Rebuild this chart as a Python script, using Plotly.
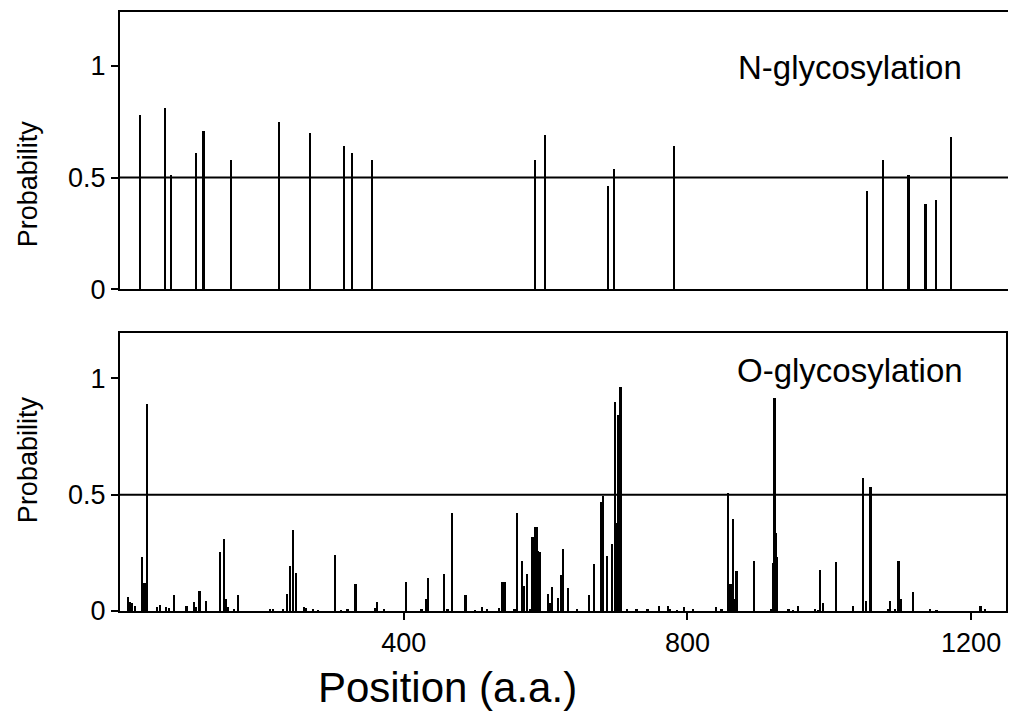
import plotly.graph_objects as go

# N-glycosylation sites (position, probability)
n_pos = [29, 64, 72, 108, 118, 157, 225, 268, 316, 328, 356, 586, 600, 688, 697, 781,
         1053, 1076, 1112, 1136, 1151, 1172]
n_prob = [0.78, 0.81, 0.51, 0.61, 0.71, 0.58, 0.75, 0.70, 0.64, 0.61, 0.58, 0.58, 0.69,
          0.46, 0.54, 0.64, 0.44, 0.58, 0.51, 0.38, 0.40, 0.68]

# O-glycosylation sites (position, probability)
o_pos = [12, 15, 17, 22, 31.5, 33, 34.5, 36, 38, 52, 56.5, 65, 69, 76, 94, 105, 108, 112.5,
         122, 141.5, 147, 149, 152.5, 161, 166.5, 212, 216, 230.5, 235.5, 240, 244.5, 249,
         260, 262.5, 273, 280, 303.5, 312, 321, 332.5, 360, 363, 372, 403.5, 425.5, 431.5,
         434.5, 457, 462, 468.5, 487.5, 501, 510.5, 517.5, 535, 539.5, 543.5, 556.5, 560,
         567.5, 569.5, 574.5, 578.5, 581.5, 583.5, 585.5, 587.5, 589.5, 592.5, 604, 606.5,
         609, 617.5, 622.5, 625, 632, 645, 661.5, 668.5, 679, 681.5, 686.5, 694, 698.5,
         700.5, 702.5, 704, 706, 715.5, 728.5, 744, 760.5, 773.5, 775.5, 786, 796, 808.5,
         841, 848.5, 857.5, 861, 864.5, 866.5, 869.5, 894.5, 919, 921.5, 923, 924.5, 926,
         943, 949, 956, 980, 984, 987, 992, 1010, 1033.5, 1048, 1052, 1058.5, 1083, 1086.5,
         1092.5, 1098, 1102, 1118, 1142, 1151.5, 1213.5, 1219.5]
o_prob = [0.06, 0.04, 0.035, 0.025, 0.235, 0.12, 0.12, 0.12, 0.89, 0.02, 0.028, 0.02, 0.015,
          0.071, 0.025, 0.042, 0.02, 0.089, 0.046, 0.257, 0.311, 0.052, 0.02, 0.01, 0.071,
          0.01, 0.01, 0.01, 0.075, 0.195, 0.35, 0.164, 0.02, 0.015, 0.012, 0.006, 0.242,
          0.006, 0.01, 0.118, 0.015, 0.042, 0.01, 0.128, 0.01, 0.052, 0.142, 0.159, 0.008,
          0.421, 0.071, 0.005, 0.02, 0.012, 0.013, 0.125, 0.128, 0.008, 0.421, 0.218, 0.109,
          0.159, 0.01, 0.32, 0.32, 0.364, 0.364, 0.26, 0.257, 0.074, 0.035, 0.104, 0.059,
          0.157, 0.267, 0.102, 0.012, 0.071, 0.204, 0.471, 0.496, 0.24, 0.29, 0.90, 0.38,
          0.843, 0.38, 0.965, 0.01, 0.01, 0.01, 0.025, 0.025, 0.01, 0.006, 0.02, 0.01, 0.02,
          0.01, 0.507, 0.118, 0.396, 0.052, 0.174, 0.218, 0.01, 0.21, 0.918, 0.338, 0.235,
          0.01, 0.006, 0.025, 0.01, 0.006, 0.178, 0.038, 0.211, 0.025, 0.572, 0.045, 0.533,
          0.01, 0.045, 0.01, 0.218, 0.052, 0.085, 0.01, 0.006, 0.025, 0.01]

threshold = 0.5
x_ticks = [400, 800, 1200]
y_ticks = [0, 0.5, 1]
y_ticktext = ["0", "0.5", "1"]

FONT = "Liberation Sans, Arial, sans-serif"
BAR_W = 2.4

fig = go.Figure()
fig.add_trace(go.Bar(x=n_pos, y=n_prob, width=BAR_W, marker=dict(color="black", line=dict(width=0)),
                     xaxis="x", yaxis="y", showlegend=False))
fig.add_trace(go.Bar(x=o_pos, y=o_prob, width=BAR_W, marker=dict(color="black", line=dict(width=0)),
                     xaxis="x2", yaxis="y2", showlegend=False))

axis_common = dict(showline=True, linecolor="black", linewidth=2, mirror=True,
                   showgrid=False, zeroline=False)

# page has an 8px body margin: figure is sized to fit the 1016x717 window
fig.update_layout(
    width=1008, height=709,
    margin=dict(l=112, r=8, t=2, b=105.5),
    plot_bgcolor="white", paper_bgcolor="white",
    font=dict(family=FONT, color="black"),
    bargap=0,
    xaxis=dict(domain=[0, 1], range=[0, 1252], showticklabels=False, ticks="",
               anchor="y", **axis_common),
    yaxis=dict(domain=[0.537, 1], range=[0, 1.24], tickvals=y_ticks, ticktext=y_ticktext,
               ticks="outside", ticklen=7, tickwidth=2, tickcolor="black",
               tickfont=dict(size=27), anchor="x", **axis_common),
    xaxis2=dict(domain=[0, 1], range=[0, 1252], tickvals=x_ticks, ticks="outside",
                ticklen=7, tickwidth=2, tickcolor="black", tickfont=dict(size=27),
                anchor="y2", **axis_common),
    yaxis2=dict(domain=[0, 0.4647], range=[0, 1.197], tickvals=y_ticks, ticktext=y_ticktext,
                ticks="outside", ticklen=7, tickwidth=2, tickcolor="black",
                tickfont=dict(size=27), anchor="x2", **axis_common),
)

# threshold lines
fig.add_shape(type="line", xref="x domain", yref="y", x0=0, x1=1, y0=threshold, y1=threshold,
              line=dict(color="black", width=2))
fig.add_shape(type="line", xref="x2 domain", yref="y2", x0=0, x1=1, y0=threshold, y1=threshold,
              line=dict(color="black", width=2))
# thick right border of lower panel
fig.add_shape(type="line", xref="x2 domain", yref="y2 domain", x0=1, x1=1, y0=0, y1=1,
              line=dict(color="black", width=4))

PW, PH = 888.0, 601.5
fig.add_annotation(text="N-glycosylation", xref="paper", yref="paper", x=(850 - 120) / PW,
                   y=1 - (66 - 10) / PH, showarrow=False, font=dict(size=33),
                   xanchor="center", yanchor="middle")
fig.add_annotation(text="O-glycosylation", xref="paper", yref="paper", x=(850 - 120) / PW,
                   y=1 - (370 - 10) / PH, showarrow=False, font=dict(size=33),
                   xanchor="center", yanchor="middle")
fig.add_annotation(text="Probability", xref="paper", yref="paper", x=(28 - 120) / PW,
                   y=1 - (183 - 10) / PH, showarrow=False, font=dict(size=27), textangle=-90,
                   xanchor="center", yanchor="middle")
fig.add_annotation(text="Probability", xref="paper", yref="paper", x=(28 - 120) / PW,
                   y=1 - (460 - 10) / PH, showarrow=False, font=dict(size=27), textangle=-90,
                   xanchor="center", yanchor="middle")
fig.add_annotation(text="Position (a.a.)", xref="paper", yref="paper", x=(447 - 120) / PW,
                   y=1 - (688 - 10) / PH, showarrow=False, font=dict(size=42),
                   xanchor="center", yanchor="middle")

fig.write_html("out.html")
